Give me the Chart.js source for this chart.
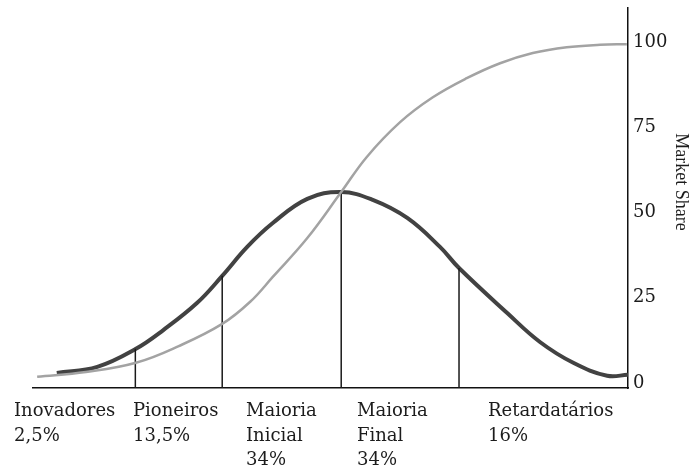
<!DOCTYPE html>
<html>
<head>
<meta charset="utf-8">
<script src="https://cdn.jsdelivr.net/npm/chart.js@4.4.1/dist/chart.umd.min.js"></script>
<style>
  html, body { margin: 0; padding: 0; background: #ffffff; }
  #wrap { width: 695px; height: 468px; position: relative; }
</style>
</head>
<body>
<div id="wrap"><canvas id="c" width="695" height="468"></canvas></div>
<script>
// ---- data ----
const categories = ['Inovadores', 'Pioneiros', 'Maioria Inicial', 'Maioria Final', 'Retardatários'];
const shares = ['2,5%', '13,5%', '34%', '34%', '16%'];

// adoption (bell) curve: x positions and values
const bellX = [4.0, 10.8, 17.3, 21.9, 27.6, 31.8, 36.0, 40.3, 46.1, 51.8, 57.1, 62.9, 68.4, 71.6, 79.7, 85.2, 90.8, 96.5, 100];
const bellY = [2.9, 4.7, 10.0, 15.5, 23.5, 31.4, 39.9, 46.9, 54.0, 56.0, 53.7, 48.4, 39.9, 33.7, 20.5, 12.0, 5.9, 2.1, 2.4];

// cumulative market share (S) curve
const sX = [0.7, 8.9, 17.3, 24.5, 31.8, 36.5, 40.3, 46.1, 51.8, 56.1, 61.7, 67.2, 72.9, 78.5, 84.0, 89.7, 95.3, 99.8];
const sY = [1.8, 3.2, 5.9, 10.8, 17.3, 23.8, 31.1, 42.5, 56.0, 66.3, 76.5, 83.8, 89.4, 93.8, 96.8, 98.5, 99.2, 99.4];

// segment dividers (x position and height where they meet the bell curve)
const dividerX = [17.2, 31.8, 51.8, 71.6];
const dividerTop = [10.0, 31.4, 56.0, 33.7];

const yTicks = [0, 25, 50, 75, 100];
const yTitle = 'Market Share';

// ---- layout constants ----
const Y_MIN = -1.5, Y_MAX = 110;
const labelLeftPx = [14, 133, 246, 357, 488];
const labelBaselines = [416, 441, 465];
const labelFont = '18px "DejaVu Serif"';

const datasets = [];
datasets.push({
  data: sX.map((x, i) => ({ x, y: sY[i] })),
  borderColor: '#a3a3a3', borderWidth: 2.5, pointRadius: 0,
  tension: 0.4, fill: false
});
dividerX.forEach((x, i) => {
  datasets.push({
    data: [{ x, y: Y_MIN }, { x, y: dividerTop[i] }],
    borderColor: '#1a1a1a', borderWidth: 1.5, pointRadius: 0, fill: false
  });
});
datasets.push({
  data: bellX.map((x, i) => ({ x, y: bellY[i] })),
  borderColor: '#424242', borderWidth: 4, pointRadius: 0,
  tension: 0.4, fill: false
});

const textPlugin = {
  id: 'texts',
  afterDraw(chart) {
    const ctx = chart.ctx;
    ctx.save();
    ctx.fillStyle = '#1c1c1c';
    ctx.font = labelFont;
    ctx.textAlign = 'left';
    ctx.textBaseline = 'alphabetic';
    categories.forEach((name, i) => {
      const lines = name.split(' ').concat([shares[i]]);
      lines.forEach((ln, j) => ctx.fillText(ln, labelLeftPx[i], labelBaselines[j]));
    });
    // rotated axis title on the right
    ctx.font = '18px "Liberation Serif"';
    ctx.textAlign = 'center';
    ctx.translate(676, 182);
    ctx.rotate(Math.PI / 2);
    ctx.fillText(yTitle, 0, 0);
    ctx.restore();
  }
};

new Chart(document.getElementById('c'), {
  type: 'line',
  data: { datasets },
  options: {
    responsive: false,
    animation: false,
    events: [],
    layout: { padding: { left: 33, top: 8, right: 0, bottom: 0 } },
    plugins: { legend: { display: false }, tooltip: { enabled: false } },
    scales: {
      x: {
        type: 'linear', min: 0, max: 100,
        grid: { display: false, drawTicks: false },
        border: { display: true, color: '#111', width: 1.5 },
        ticks: { display: false },
        afterFit(s) { s.height = 80; s.paddingLeft = 0; s.paddingRight = 0; }
      },
      y: {
        type: 'linear', position: 'right', min: Y_MIN, max: Y_MAX,
        afterBuildTicks(s) { s.ticks = yTicks.map(v => ({ value: v })); },
        grid: { display: false, drawTicks: false },
        border: { display: true, color: '#111', width: 1.5 },
        ticks: { padding: 5, color: '#1c1c1c', font: { family: 'DejaVu Serif', size: 18 } },
        afterFit(s) { s.width = 67; s.paddingTop = 0; s.paddingBottom = 0; }
      }
    }
  },
  plugins: [textPlugin]
});
</script>
</body>
</html>
